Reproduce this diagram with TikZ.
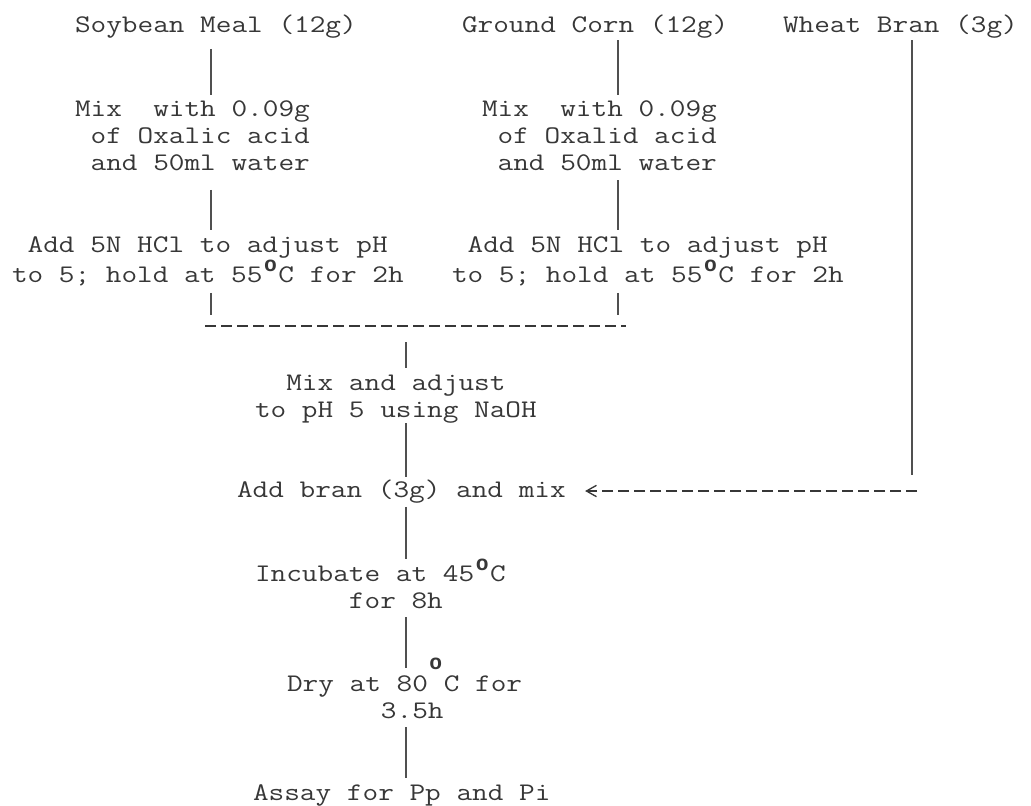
\documentclass[tikz,border=0pt]{standalone}
\usepackage{fontspec}
\setmonofont[FakeStretch=1.2]{Latin Modern Mono}
\newfontfamily\degfont{Liberation Mono}
\usetikzlibrary{arrows.meta}
\definecolor{ink}{RGB}{55,55,55}
\definecolor{rulec}{RGB}{80,80,80}
\newcommand\tyw{\ttfamily\fontsize{19}{20.25}\selectfont\frenchspacing}
\newcommand\dg{\makebox[11.97pt][c]{\raisebox{8pt}{\degfont\bfseries\fontsize{16}{16}\selectfont o}}}
\newcommand\dgh{\makebox[11.97pt][c]{\raisebox{16pt}{\degfont\bfseries\fontsize{16}{16}\selectfont o}}}
\begin{document}
\begin{tikzpicture}[x=0.75pt,y=-0.75pt,
  every node/.style={inner sep=0pt, outer sep=0pt, text=ink, font=\tyw, align=left},
  vline/.style={draw=rulec, line width=0.9pt},
  dline/.style={draw=ink, line width=1.9pt, dash pattern=on 8.25pt off 3.75pt},
]
\useasboundingbox[fill=white] (0,0) rectangle (1031,806);

% column positions
\coordinate (c1) at (211,0);
\coordinate (c2) at (618,0);
\coordinate (c3) at (406,0);
\coordinate (c4) at (912,0);
\coordinate (bl) at (205,326);
\coordinate (br) at (626,326);
\coordinate (wb) at (912,475);
\coordinate (we) at (917,491);

% nodes (base = baseline of the last line)
\node[anchor=base west] (soy) at (75,33) {Soybean Meal (12g)};
\node[anchor=base west] (corn) at (462,33) {Ground Corn (12g)};
\node[anchor=base west] (wheat) at (783,33) {Wheat Bran (3g)};
\node[anchor=base west] (smix) at (75,171) {Mix\phantom{x} with 0.09g\\\phantom{x}of Oxalic acid\\\phantom{x}and 50ml water};
\node[anchor=base west] (cmix) at (482,171) {Mix\phantom{x} with 0.09g\\\phantom{x}of Oxalid acid\\\phantom{x}and 50ml water};
\node[anchor=base west] (sadd) at (12,282) {\phantom{x}Add 5N HCl to adjust pH\\to 5; hold at 55\dg C for 2h};
\node[anchor=base west] (cadd) at (452,282) {\phantom{x}Add 5N HCl to adjust pH\\to 5; hold at 55\dg C for 2h};
\node[anchor=base west] (mixadj) at (255,417) {\phantom{xx}Mix and adjust\\to pH 5 using NaOH};
\node[anchor=base west] (bran) at (237,497) {Add bran (3g) and mix};
\node[anchor=base west] (incub) at (255,608) {Incubate at 45\dg C\\\phantom{xxxxxx}for 8h};
\node[anchor=base west] (dry) at (287,718) {Dry at 80\dgh C for\\\phantom{xxxxxx}3.5h};
\node[anchor=base west] (assay) at (253,800) {Assay for Pp and Pi};

% connectors
\draw[vline, shorten <=7.5pt, shorten >=5pt] (soy.south -| c1) -- (smix.north -| c1);
\draw[vline, shorten <=14pt, shorten >=5pt] (smix.south -| c1) -- (sadd.north -| c1);
\draw[vline, shorten <=5.6pt, shorten >=8.25pt] (sadd.south -| c1) -- (bl -| c1);
\draw[vline, shorten <=1pt, shorten >=5pt] (corn.south -| c2) -- (cmix.north -| c2);
\draw[vline, shorten <=6.75pt, shorten >=5pt] (cmix.south -| c2) -- (cadd.north -| c2);
\draw[vline, shorten <=5.6pt, shorten >=8.25pt] (cadd.south -| c2) -- (br -| c2);
\draw[dline] (bl) -- (br);
\draw[vline, shorten <=12pt, shorten >=5pt] (bl -| c3) -- (mixadj.north -| c3);
\draw[vline, shorten <=0.5pt, shorten >=2pt] (mixadj.south -| c3) -- (bran.north -| c3);
\draw[vline, shorten <=3pt, shorten >=0pt] (bran.south -| c3) -- (incub.north -| c3);
\draw[vline, shorten <=6.75pt, shorten >=-7.5pt] (incub.south -| c3) -- (dry.north -| c3);
\draw[vline, shorten <=6.75pt, shorten >=5pt] (dry.south -| c3) -- (assay.north -| c3);
\draw[vline, shorten <=1pt] (wheat.south -| c4) -- (wb);
\draw[dline, shorten >=14.5pt, -{Straight Barb[length=7.5pt, width=8.5pt, line width=1pt]}] (we) -- (bran.east |- we);
\end{tikzpicture}
\end{document}
